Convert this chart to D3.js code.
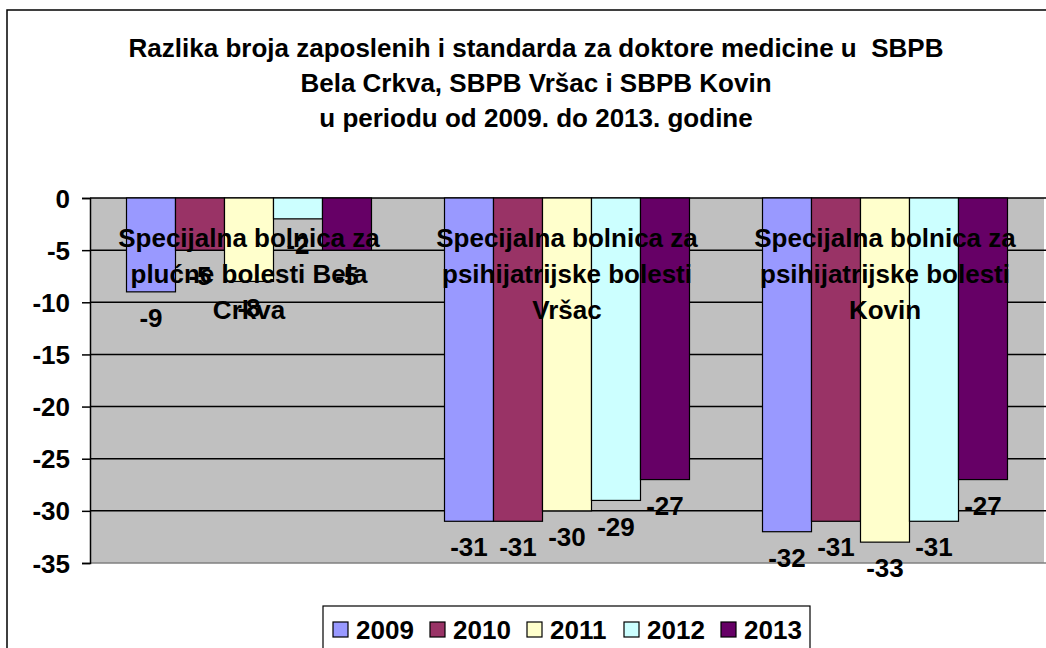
<!DOCTYPE html>
<html>
<head>
<meta charset="utf-8">
<script src="https://cdn.jsdelivr.net/npm/d3@7"></script>
<style>
  body { margin: 0; background: #fff; }
  text { font-family: "Liberation Sans", Arial, sans-serif; font-weight: bold; fill: #000; }
</style>
</head>
<body>
<div id="chart"></div>
<script>
// data
const categories = ["Bela Crkva", "Vršac", "Kovin"];
const categoryLines = [
  ["Specijalna bolnica za", "plućne bolesti Bela", "Crkva"],
  ["Specijalna bolnica za", "psihijatrijske bolesti", "Vršac"],
  ["Specijalna bolnica za", "psihijatrijske bolesti", "Kovin"]
];
const years = ["2009", "2010", "2011", "2012", "2013"];
const v2009 = [-9, -31, -32];
const v2010 = [-5, -31, -31];
const v2011 = [-8, -30, -33];
const v2012 = [-2, -29, -31];
const v2013 = [-5, -27, -27];
const yTicks = [0, -5, -10, -15, -20, -25, -30, -35];
const titleLines = [
  "Razlika broja zaposlenih i standarda za doktore medicine u  SBPB",
  "Bela Crkva, SBPB Vršac i SBPB Kovin",
  "u periodu od 2009. do 2013. godine"
];

const series = [v2009, v2010, v2011, v2012, v2013];
const colors = ["#9999FF", "#993366", "#FFFFCC", "#CCFFFF", "#660066"];

const w = 1046, h = 648;
const pLeft = 90, pRight = 1044, pTop = 198, pBottom = 563;

const svg = d3.select("#chart").append("svg")
  .attr("width", w)
  .attr("height", h);

// chart border (runs past the right and bottom edge)
svg.append("rect")
  .attr("x", 7).attr("y", 10)
  .attr("width", 1100).attr("height", 700)
  .attr("fill", "#fff")
  .attr("stroke", "#000")
  .attr("stroke-width", 1.5);

const x0 = d3.scaleBand().domain(categories).range([pLeft, pRight]).padding(0);
const x1 = d3.scaleBand().domain(years).range([0, x0.bandwidth()])
  .paddingInner(0).paddingOuter(0.745);
const y = d3.scaleLinear().domain([-35, 0]).range([pBottom, pTop]);
const color = d3.scaleOrdinal().domain(years).range(colors);

// plot area
svg.append("rect")
  .attr("x", pLeft).attr("y", pTop)
  .attr("width", pRight - pLeft).attr("height", pBottom - pTop)
  .attr("fill", "#C0C0C0");

// gridlines
svg.append("g").selectAll("line")
  .data(yTicks.filter(t => t > -35))
  .enter().append("line")
  .attr("x1", pLeft).attr("x2", pRight + 2)
  .attr("y1", d => y(d)).attr("y2", d => y(d))
  .attr("stroke", "#000").attr("stroke-width", 1.5);

svg.append("line")
  .attr("x1", pLeft).attr("x2", pRight + 2)
  .attr("y1", y(-35)).attr("y2", y(-35))
  .attr("stroke", "#808080").attr("stroke-width", 1.5);

// bars
const rows = [];
categories.forEach((c, i) => {
  years.forEach((yr, j) => rows.push({ cat: c, year: yr, value: series[j][i] }));
});

svg.append("g").selectAll("rect")
  .data(rows)
  .enter().append("rect")
  .attr("x", d => x0(d.cat) + x1(d.year))
  .attr("y", y(0))
  .attr("width", x1.bandwidth())
  .attr("height", d => y(d.value) - y(0))
  .attr("fill", d => color(d.year))
  .attr("stroke", "#000")
  .attr("stroke-width", 1.2);

// y axis (plain hyphen for the minus, as in the original)
const yAxis = d3.axisLeft(y).tickValues(yTicks).tickSize(8).tickPadding(12)
  .tickFormat(d => String(d));
const ga = svg.append("g")
  .attr("transform", "translate(" + pLeft + ",0)")
  .call(yAxis);
ga.select(".domain").attr("stroke", "#000").attr("stroke-width", 1.5);
ga.selectAll(".tick line").attr("stroke", "#000").attr("stroke-width", 1.5);
ga.selectAll(".tick text")
  .style("font-size", "26px")
  .attr("fill", "#000")
  .attr("dy", "0.35em");

// data labels
svg.append("g").selectAll("text")
  .data(rows)
  .enter().append("text")
  .attr("x", d => x0(d.cat) + x1(d.year) + x1.bandwidth() / 2)
  .attr("y", d => y(d.value) + 26)
  .attr("dy", "0.35em")
  .attr("text-anchor", "middle")
  .style("font-size", "26px")
  .text(d => String(d.value));

// category labels sitting over the top of the bars
categories.forEach((c, i) => {
  svg.append("text")
    .attr("x", x0(c) + x0.bandwidth() / 2)
    .attr("y", 238)
    .attr("text-anchor", "middle")
    .style("font-size", "26px")
    .selectAll("tspan")
    .data(categoryLines[i])
    .enter().append("tspan")
    .attr("x", x0(c) + x0.bandwidth() / 2)
    .attr("dy", (d, k) => k === 0 ? "0.35em" : "36px")
    .text(d => d);
});

// title
svg.append("text")
  .attr("x", 536)
  .attr("y", 48)
  .attr("text-anchor", "middle")
  .style("font-size", "26px")
  .style("white-space", "pre")
  .selectAll("tspan")
  .data(titleLines)
  .enter().append("tspan")
  .attr("x", 536)
  .attr("dy", (d, k) => k === 0 ? "0.35em" : "35px")
  .text(d => d);

// legend
const lg = svg.append("g");
lg.append("rect")
  .attr("x", 323).attr("y", 606)
  .attr("width", 487).attr("height", 80)
  .attr("fill", "#fff")
  .attr("stroke", "#000")
  .attr("stroke-width", 1.2);

const item = lg.selectAll("g.item")
  .data(years)
  .enter().append("g")
  .attr("class", "item")
  .attr("transform", (d, i) => "translate(" + (333 + i * 97) + ",622)");

item.append("rect")
  .attr("width", 15).attr("height", 15)
  .attr("fill", d => color(d))
  .attr("stroke", "#000")
  .attr("stroke-width", 1.2);

item.append("text")
  .attr("x", 23)
  .attr("y", 8)
  .attr("dy", "0.35em")
  .style("font-size", "26px")
  .text(d => d);
</script>
</body>
</html>
